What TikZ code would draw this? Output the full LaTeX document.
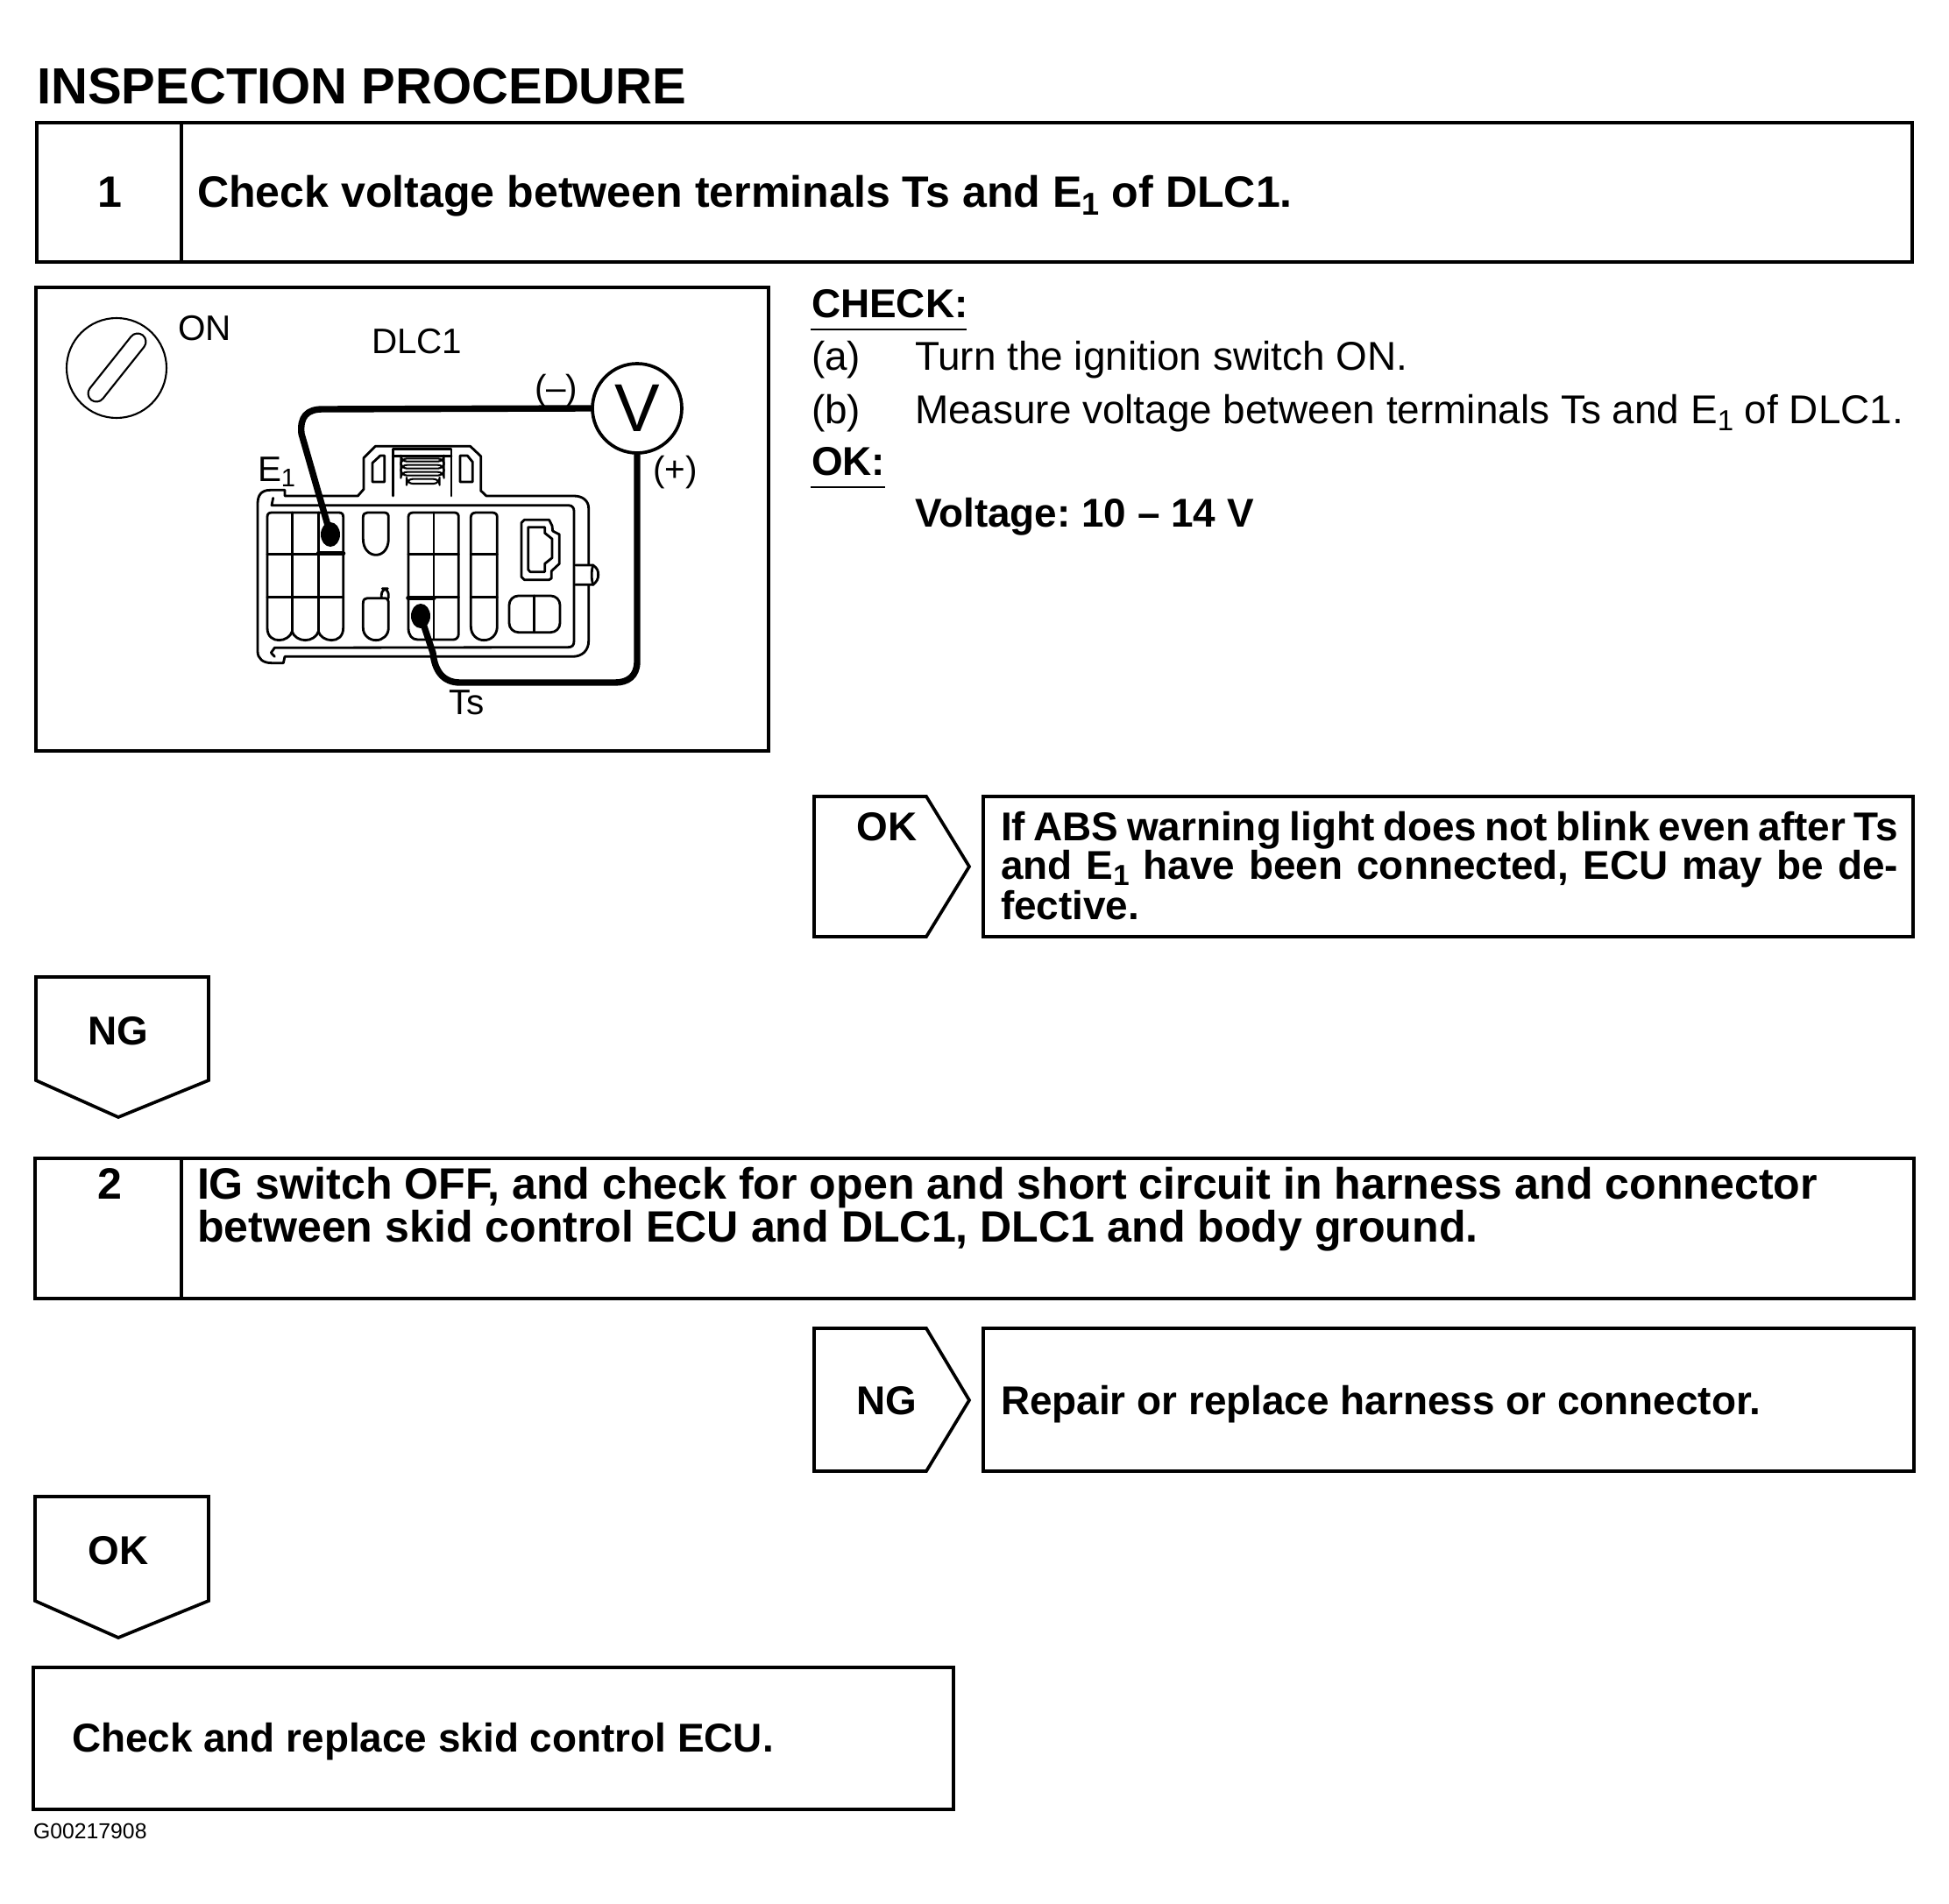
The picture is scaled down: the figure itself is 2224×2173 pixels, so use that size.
\documentclass[tikz,border=0pt]{standalone}
\usepackage{fontspec}
\setmainfont{Liberation Sans}
\frenchspacing
\tikzset{
  lbl/.style={anchor=base west,inner sep=0pt,outer sep=0pt},
  ctr/.style={anchor=base,inner sep=0pt,outer sep=0pt},
  hd/.style={font=\fontsize{14.25pt}{15pt}\selectfont\bfseries},
  hdb/.style={font=\fontsize{13.05pt}{14pt}\selectfont\bfseries},
  bodytxt/.style={font=\fontsize{13.05pt}{14pt}\selectfont},
  small/.style={font=\fontsize{11.5pt}{12pt}\selectfont},
  frame/.style={draw=black,line width=1.05pt,line join=miter},
  conn/.style={draw=black,line width=0.8pt,line join=round,line cap=round},
  wire/.style={draw=black,line width=2.1pt,line join=round,line cap=round},
}
\newcommand{\sub}[1]{\raisebox{-0.32ex}{\fontsize{0.72em}{1em}\selectfont #1}}
\begin{document}
\begin{tikzpicture}[x=0.01cm,y=-0.01cm]
\useasboundingbox (0,0) rectangle (2224,2173);
\fill[white] (0,0) rectangle (2224,2173);

\node[lbl,font=\fontsize{16.5pt}{18pt}\selectfont\bfseries] (title) at (42,119) {INSPECTION PROCEDURE};

% step 1
\draw[frame] (42,140) rectangle (2182,299);
\draw[frame] (207,140) -- (207,299);
\node[ctr,hd] (n1) at (125,237) {1};
\node[lbl,hd] (s1) at (225,237) {Check voltage between terminals Ts and E\sub{1} of DLC1.};

% illustration frame
\draw[frame] (41,328) rectangle (877,857);

% CHECK column
\node[lbl,hdb] (chk) at (926,363) {CHECK:};
\draw[line width=0.8pt] (925,376) -- (1103,376);
\node[lbl,bodytxt] (a) at (926,423) {(a)};
\node[lbl,bodytxt] (at) at (1044,423) {Turn the ignition switch ON.};
\node[lbl,bodytxt] (b) at (926,484) {(b)};
\node[lbl,bodytxt] (bt) at (1044,484) {Measure voltage between terminals Ts and E\sub{1} of DLC1.};
\node[lbl,hdb] (okh) at (926,543) {OK:};
\draw[line width=0.8pt] (925,556) -- (1010,556);
\node[lbl,hdb] (volt) at (1044,601) {Voltage: 10 -- 14 V};

% OK right
\draw[frame] (929,909) -- (1057,909) -- (1106,989) -- (1057,1069) -- (929,1069) -- cycle;
\node[ctr,hdb] (okr) at (1012,959) {OK};
\draw[frame] (1122,909) rectangle (2183,1069);
\node[lbl,hdb] (r1a) at (1142,959) {\makebox[1024\dimexpr0.01cm\relax][s]{If ABS warning light does not blink even after Ts}};
\node[lbl,hdb] (r1b) at (1142,1003) {\makebox[1024\dimexpr0.01cm\relax][s]{and E\sub{1} have been connected, ECU may be de-}};
\node[lbl,hdb] (r1c) at (1142,1049) {fective.};

% NG down
\draw[frame] (41,1115) -- (238,1115) -- (238,1233) -- (135,1275) -- (41,1233) -- cycle;
\node[ctr,hdb] (ngd) at (135,1192) {NG};

% step 2
\draw[frame] (40,1322) rectangle (2184,1482);
\draw[frame] (207,1322) -- (207,1482);
\node[ctr,hd] (n2) at (125,1368) {2};
\node[lbl,hd] (s2a) at (225,1368) {IG switch OFF, and check for open and short circuit in harness and connector};
\node[lbl,hd] (s2b) at (225,1417) {between skid control ECU and DLC1, DLC1 and body ground.};

% NG right
\draw[frame] (929,1516) -- (1057,1516) -- (1106,1598) -- (1057,1679) -- (929,1679) -- cycle;
\node[ctr,hdb] (ngr) at (1012,1614) {NG};
\draw[frame] (1122,1516) rectangle (2184,1679);
\node[lbl,hdb] (rep) at (1142,1614) {Repair or replace harness or connector.};

% OK down
\draw[frame] (40,1708) -- (238,1708) -- (238,1827) -- (135,1869) -- (40,1827) -- cycle;
\node[ctr,hdb] (okd) at (135,1785) {OK};

% final
\draw[frame] (38,1903) rectangle (1088,2065);
\node[lbl,hdb] (fin) at (82,1999) {Check and replace skid control ECU.};
\node[lbl,font=\fontsize{7.05pt}{8pt}\selectfont] (code) at (38,2098) {G00217908};

% key switch
\draw[line width=0.6pt] (133,420) circle (57);
\draw[line width=6pt,line cap=round] (157,390) -- (110,449);
\draw[line width=4.7pt,line cap=round,white] (157,390) -- (110,449);

\node[lbl,small] (on) at (203,389) {ON};
\node[lbl,small] (dlc) at (424,404) {DLC1};
\node[lbl,small] (minus) at (610,456) {(--)};
\node[lbl,small] (plus) at (745,549) {(+)};
\node[lbl,small] (e1) at (294,549) {E\sub{1}};
\node[lbl,small] (ts) at (512,815) {Ts};

% connector drawing, coordinates taken in 3x units
\begin{scope}[shift={(280,500)},x=0.01cm/3,y=-0.01cm/3]
 \draw[conn] (135,178) -- (85,178) .. controls (55,178) and (42,195) .. (42,225) -- (42,730)
   .. controls (42,755) and (60,770) .. (90,770) -- (130,770) -- (135,748) -- (1120,748)
   .. controls (1155,748) and (1175,725) .. (1175,695) -- (1175,240)
   .. controls (1175,215) and (1155,198) .. (1125,198) -- (825,198) -- (806,180) -- (806,62) -- (770,28)
   -- (445,28) -- (405,68) -- (405,175) -- (385,198) -- (135,198) -- cycle;
 \draw[conn] (95,205) -- (90,230) -- (1105,230) .. controls (1120,230) and (1125,240) .. (1125,250)
   -- (1125,695) .. controls (1125,710) and (1118,716) .. (1105,716) -- (100,718) -- (88,735) -- (100,748);
 \draw[conn] (505,198) -- (505,38) -- (705,38) -- (705,198);
 \draw[conn] (505,62) -- (705,62);
 \draw[conn] (435,150) -- (435,85) -- (462,60) -- (476,60) -- (476,150) -- cycle;
 \draw[conn] (735,60) -- (760,60) -- (778,82) -- (778,150) -- (735,150) -- cycle;
 \draw[conn,line width=0.6pt,rounded corners=2pt] (532,70) rectangle (680,80);
 \draw[conn,line width=0.6pt,rounded corners=2pt] (532,92) rectangle (680,104);
 \draw[conn,line width=0.6pt,rounded corners=2pt] (532,116) rectangle (680,128);
 \draw[conn,line width=0.6pt,rounded corners=2pt] (552,140) rectangle (665,156);
 % left block 3x3
 \draw[conn] (75,545) -- (75,270) .. controls (75,260) and (80,255) .. (90,255) -- (320,255) .. controls (330,255) and (335,260) .. (335,270) -- (335,650)
   .. controls (335,680) and (315,692) .. (295,692) .. controls (275,692) and (255,680) .. (250,662)
   .. controls (245,680) and (225,692) .. (205,692) .. controls (185,692) and (165,680) .. (160,662)
   .. controls (155,680) and (135,692) .. (115,692) .. controls (95,692) and (75,680) .. (75,650) -- cycle;
 \draw[conn] (160,255) -- (160,662) (250,255) -- (250,662);
 \draw[conn] (75,398) -- (335,398) (75,545) -- (335,545);
 \draw[conn,line width=1.5pt] (250,395) -- (335,395);
 % middle ovals
 \draw[conn] (403,270) .. controls (403,260) and (410,255) .. (418,255) -- (475,255) .. controls (485,255) and (490,260) .. (490,270) -- (490,345)
   .. controls (490,380) and (470,400) .. (447,400) .. controls (424,400) and (403,380) .. (403,345) -- cycle;
 \draw[conn] (403,565) .. controls (403,552) and (410,548) .. (418,548) -- (475,548) .. controls (485,548) and (490,552) .. (490,565) -- (490,650)
   .. controls (490,675) and (470,692) .. (447,692) .. controls (424,692) and (403,675) .. (403,650) -- cycle;
 \draw[conn,rounded corners=2pt] (466,546) -- (466,515) -- (490,515) -- (490,548);
 % middle block 2x3
 \draw[conn] (558,270) .. controls (558,260) and (565,255) .. (575,255) -- (715,255) .. controls (725,255) and (730,260) .. (730,270) -- (730,670)
   .. controls (730,682) and (722,690) .. (712,690) -- (590,690) .. controls (570,690) and (558,675) .. (558,650) -- cycle;
 \draw[conn] (645,255) -- (645,690);
 \draw[conn] (558,398) -- (730,398) (558,545) -- (730,545);
 \draw[conn,line width=1.6pt] (558,547) -- (645,547);
 % right column
 \draw[conn] (772,270) .. controls (772,260) and (780,255) .. (790,255) -- (845,255) .. controls (855,255) and (862,260) .. (862,270) -- (862,645)
   .. controls (862,675) and (840,692) .. (817,692) .. controls (794,692) and (772,675) .. (772,645) -- cycle;
 \draw[conn] (772,398) -- (862,398) (772,545) -- (862,545);
 % key
 \draw[conn] (945,290) -- (955,280) -- (1040,280) -- (1050,300) -- (1052,318) -- (1075,330) -- (1075,430) -- (1048,455) -- (1048,480) -- (1040,485) -- (955,485) -- (945,475) -- cycle;
 \draw[conn] (968,305) -- (1025,305) -- (1025,325) -- (1050,345) -- (1050,410) -- (1025,430) -- (1025,458) -- (975,458) -- (968,450) -- cycle;
 % small box
 \draw[conn,rounded corners=3pt] (903,540) rectangle (1077,665);
 \draw[conn] (988,540) -- (988,665);
 % side tab
 \fill[white] (1135,438) rectangle (1195,498);
 \draw[conn] (1130,435) -- (1190,435) .. controls (1205,445) and (1208,455) .. (1208,468) .. controls (1208,482) and (1203,492) .. (1190,502) -- (1130,502);
 \draw[conn] (1190,435) .. controls (1184,455) and (1184,482) .. (1190,502);
\end{scope}

% meter and test wires
\node[circle,draw=black,line width=1.05pt,minimum size=102*0.01cm,inner sep=0pt,font=\fontsize{22pt}{22pt}\selectfont] (V) at (727,466) {V};
\coordinate (E1pin) at (377,610);
\coordinate (TSpin) at (480,703);
\fill (E1pin) ellipse (11 and 14);
\fill (TSpin) ellipse (11 and 14);
\draw[wire] (V.west) -- (368,467) .. controls (350,467) and (342,476) .. (344,495) -- (E1pin);
\draw[wire] (V.south) -- (727,755) .. controls (727,772) and (716,779) .. (702,779) -- (525,779)
   .. controls (505,779) and (496,765) .. (494,745) -- (TSpin);
\end{tikzpicture}
\end{document}
